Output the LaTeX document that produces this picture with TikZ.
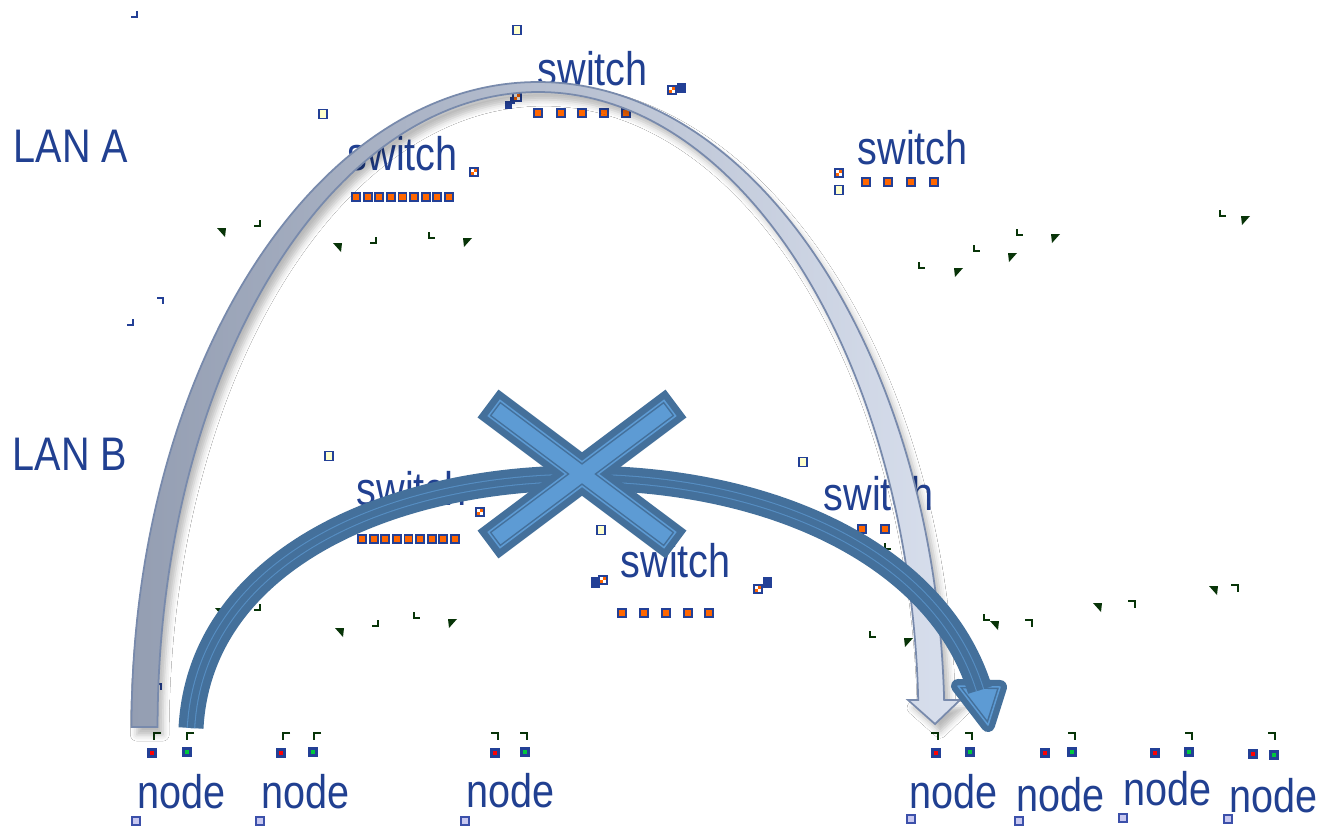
\documentclass[tikz,border=0pt]{standalone}
\usepackage{fontspec}
\newfontfamily\lblfont{Liberation Sans}[FakeStretch=0.84]
\usetikzlibrary{shadows.blur}

\definecolor{txtblue}{RGB}{33,64,145}
\definecolor{rimblue}{RGB}{35,64,150}
\definecolor{portorange}{RGB}{255,102,0}
\definecolor{lampyellow}{RGB}{255,255,204}
\definecolor{hostgrn}{RGB}{0,200,60}
\definecolor{lavfill}{RGB}{200,200,240}
\definecolor{lavrim}{RGB}{60,80,170}
\definecolor{markgreen}{RGB}{8,52,8}
\definecolor{archL}{RGB}{148,158,178}
\definecolor{archR}{RGB}{216,223,237}
\definecolor{archrim}{RGB}{120,138,172}
\definecolor{steel}{RGB}{68,112,155}
\definecolor{sky}{RGB}{93,155,212}

\tikzset{
  lbl/.style={font=\lblfont\fontsize{13.4pt}{16pt}\selectfont, text=txtblue,
              inner sep=0pt, anchor=base west},
  port/.style={draw=rimblue, fill=portorange, line width=0.55pt},
  lampsq/.style={draw=rimblue, fill=lampyellow, line width=0.55pt},
  chk/.style={draw=rimblue, fill=white, line width=0.55pt},
  hostred/.style={draw=rimblue, fill=red, line width=0.75pt},
  hostgreen/.style={draw=rimblue, fill=hostgrn, line width=0.75pt},
  lavsq/.style={draw=lavrim, fill=lavfill, line width=0.5pt},
  gmark/.style={draw=markgreen, line width=0.75pt},
  bmark/.style={draw=rimblue, line width=0.75pt},
  crossshape/.style={preaction={draw=steel, line width=4.4pt, line join=miter},
              fill=sky, draw=steel, double=sky, double distance=0.43pt,
              line width=0.43pt, line join=miter},
  headshape/.style={preaction={draw=steel, line width=4.0pt, line join=round},
              fill=sky, draw=steel, double=sky, double distance=0.43pt,
              line width=0.43pt, line join=round},
  archband/.style={blur shadow={shadow xshift=1.5pt, shadow yshift=-2.2pt,
              shadow blur radius=1.8pt, shadow opacity=28},
              left color=archL, right color=archR, draw=archrim, line width=0.5pt},
}

\begin{document}
\begin{tikzpicture}[x=0.01cm, y=-0.01cm]
\fill[white] (0,0) rectangle (1321,829);
\useasboundingbox (0,0) rectangle (1321,829);

% ---------- labels ----------
\node[lbl] (lanA) at (13,162) {LAN A};
\node[lbl] (lanB) at (12,470) {LAN B};
\node[lbl] (swA1) at (537,85)  {switch};
\node[lbl] (swA2) at (347,170) {switch};
\node[lbl] (swA3) at (857,164) {switch};
\node[lbl] (swB1) at (356,505) {switch};
\node[lbl] (swB2) at (823,510) {switch};
\node[lbl] (swB3) at (620,577) {switch};
\node[lbl] (n1) at (137,808)  {node};
\node[lbl] (n2) at (261,808)  {node};
\node[lbl] (n3) at (466,807)  {node};
\node[lbl] (n4) at (909,808)  {node};
\node[lbl] (n5) at (1016,811) {node};
\node[lbl] (n6) at (1123,805) {node};
\node[lbl] (n7) at (1229,812) {node};

% ---------- switch ports ----------
\foreach \x in {538,561,582,604,626}
  \draw[port] (\x,113) +(-4,-4) rectangle +(4,4);
\foreach \x in {356,367.6,379.2,390.9,402.5,414.1,425.8,437.4,449}
  \draw[port] (\x,197) +(-4,-4) rectangle +(4,4);
\foreach \x in {866,888,911,934}
  \draw[port] (\x,182) +(-4,-4) rectangle +(4,4);
\foreach \x in {362,373.6,385.2,396.9,408.5,420.1,431.8,443.4,455}
  \draw[port] (\x,539) +(-4,-4) rectangle +(4,4);
\foreach \x in {622,644,666,688,709}
  \draw[port] (\x,613) +(-4,-4) rectangle +(4,4);
\foreach \x in {840,862,885,908}
  \draw[port] (\x,529) +(-4,-4) rectangle +(4,4);

% ---------- status lamps ----------
\foreach \x/\y in {517/30, 323/114, 329/456, 601/530, 803/462, 839/190}
  \draw[lampsq] (\x,\y) +(-4,-4.5) rectangle +(4,4.5);

% ---------- dark blocks beside switches ----------
\fill[rimblue] (505,101) rectangle (512,109);
\fill[rimblue] (510,97) rectangle (515,104);
\fill[rimblue] (677,83) rectangle (686,93);
\fill[rimblue] (591,577) rectangle (600,588);
\fill[rimblue] (763,577) rectangle (772,588);

% ---------- checkered indicators ----------
\foreach \x/\y in {517/97, 474/172, 839/173, 672/90, 480/512, 603/580, 758/589} {
  \draw[chk] (\x,\y) +(-4,-4) rectangle +(4,4);
  \fill[portorange] (\x,\y) +(0,-3) rectangle +(3,0);
  \fill[portorange] (\x,\y) +(-3,0) rectangle +(0,3);
}

% ---------- host interfaces ----------
\foreach \x/\y in {152/753, 281/753, 495/753, 936/753, 1045/753, 1155/753, 1253/754}
  \draw[hostred] (\x,\y) +(-3.5,-3.5) rectangle +(3.5,3.5);
\foreach \x/\y in {187/752, 313/752, 525/752, 970/752, 1072/752, 1189/752, 1274/755}
  \draw[hostgreen] (\x,\y) +(-3.5,-3.5) rectangle +(3.5,3.5);
\foreach \x/\y in {136/821, 260/821, 465/821, 911/819, 1019/821, 1123/818, 1228/819}
  \draw[lavsq] (\x,\y) +(-4,-4) rectangle +(4,4);

% ---------- corner marks ----------
\foreach \x/\y in {154/733, 187/733, 283/733, 314/733}
  \draw[gmark] (\x,\y) +(7,0) -- +(0,0) -- +(0,7);
\foreach \x/\y in {498/733, 527/733, 938/733, 972/733, 1075/733, 1192/733, 1275/733,
                   1032/620, 1135/601, 1238/585}
  \draw[gmark] (\x,\y) +(-7,0) -- +(0,0) -- +(0,7);
\foreach \x/\y in {260/226, 376/243, 260/610, 378/626}
  \draw[gmark] (\x,\y) +(-6,0) -- +(0,0) -- +(0,-6);
\foreach \x/\y in {429/238, 919/268, 974/251, 1017/235, 1220/216, 414/618, 885/549,
                   870/637, 984/620}
  \draw[gmark] (\x,\y) +(0,-6) -- +(0,0) -- +(6,0);
\foreach \x/\y in {137/17, 133/325}
  \draw[bmark] (\x,\y) +(-6,0) -- +(0,0) -- +(0,-6);
\foreach \x/\y in {163/298, 161/684}
  \draw[bmark] (\x,\y) +(-6,0) -- +(0,0) -- +(0,6);

% ---------- triangle marks ----------
\foreach \x/\y in {222/232, 338/247, 220/612, 340/632, 995/625, 1098/607, 1214/590}
  \fill[markgreen] (\x,\y) +(-5,-4) -- +(4,-4) -- +(3,5) -- cycle;
\foreach \x/\y in {467/242, 958/272, 1012/257, 1055/238, 1245/220, 452/623, 908/642}
  \fill[markgreen] (\x,\y) +(-4,-4) -- +(5,-4) -- +(-3,5) -- cycle;

% ---------- LAN A path: curved down arrow ----------
\path[archband] (131.5,727)
  arc[start angle=180, end angle=357.60, x radius=406.5, y radius=645]
  -- (960,700) -- (935,724) -- (908,700) -- (918.2,700)
  arc[start angle=357.563, end angle=180, x radius=380.5, y radius=635]
  -- cycle;

% ---------- LAN B path: blocked arrow ----------
\coordinate (bstart) at (191,728);
\coordinate (bend) at (980,690);
\path[headshape] (958,686) -- (1000,687) -- (988,725) -- cycle;
\draw[steel, line width=7.1pt,
      postaction={draw=sky!70!steel, line width=2.4pt},
      postaction={draw=steel, line width=1.8pt}]
  (bstart) .. controls (200,560) and (390,478) .. (580,478)
           .. controls (780,478) and (940,560) .. (bend);

% ---------- cross over the LAN B path ----------
\path[crossshape]
  (582,461.9) -- (664.0,400.4) -- (675.6,415.9) -- (598.1,474)
  -- (675.6,532.1) -- (664.0,547.6) -- (582,486.1)
  -- (500.0,547.6) -- (488.4,532.1) -- (565.9,474)
  -- (488.4,415.9) -- (500.0,400.4) -- cycle;
\end{tikzpicture}
\end{document}
